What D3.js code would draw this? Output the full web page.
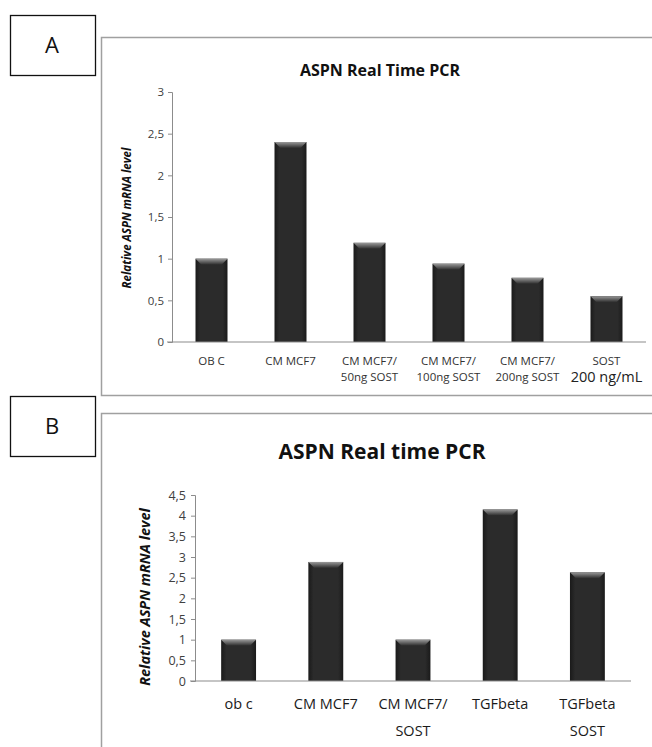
<!DOCTYPE html>
<html>
<head>
<meta charset="utf-8">
<script src="https://cdn.jsdelivr.net/npm/d3@7"></script>
<style>
  body { margin: 0; background: #fff; }
  svg { display: block; font-family: 'Open Sans', 'Noto Sans', sans-serif; }
</style>
</head>
<body>
<div id="chart"></div>
<script>
// panel A data
const catsA = ['OB C', 'CM MCF7', 'CM MCF7/|50ng SOST', 'CM MCF7/|100ng SOST', 'CM MCF7/|200ng SOST', 'SOST|200 ng/mL'];
const valuesA = [1.0, 2.4, 1.19, 0.94, 0.77, 0.55];
const ticksA = [0, 0.5, 1, 1.5, 2, 2.5, 3];

// panel B data
const catsB = ['ob c', 'CM MCF7', 'CM MCF7/|SOST', 'TGFbeta', 'TGFbeta|SOST'];
const valuesB = [1.0, 2.88, 1.0, 4.15, 2.63];
const ticksB = [0, 0.5, 1, 1.5, 2, 2.5, 3, 3.5, 4, 4.5];

const width = 652, height = 747;
const svg = d3.select('#chart').append('svg').attr('width', width).attr('height', height);

const defs = svg.append('defs');
const grad = defs.append('linearGradient').attr('id', 'bevel').attr('x1', 0).attr('y1', 0).attr('x2', 0).attr('y2', 1);
grad.append('stop').attr('offset', '0%').attr('stop-color', '#9a9a9a');
grad.append('stop').attr('offset', '100%').attr('stop-color', '#2e2e2e');
const side = defs.append('linearGradient').attr('id', 'side').attr('x1', 0).attr('y1', 0).attr('x2', 1).attr('y2', 0);
side.append('stop').attr('offset', '0%').attr('stop-color', '#1a1a1a');
side.append('stop').attr('offset', '15%').attr('stop-color', '#2b2b2b');
side.append('stop').attr('offset', '85%').attr('stop-color', '#2b2b2b');
side.append('stop').attr('offset', '100%').attr('stop-color', '#1a1a1a');

const fmt = (v) => d3.format('~g')(v).replace('.', ',');

function panel(cfg) {
    // outer frame
    svg.append('path')
        .attr('d', cfg.frame)
        .attr('fill', 'none')
        .attr('stroke', '#a0a0a0')
        .attr('stroke-width', 1.5);

    // letter box
    svg.append('rect')
        .attr('x', 10.5).attr('y', cfg.boxY + 0.5)
        .attr('width', 85).attr('height', 60)
        .attr('fill', '#fff').attr('stroke', '#111').attr('stroke-width', 1.3);
    svg.append('text')
        .attr('x', 52).attr('y', cfg.boxY + 38)
        .attr('text-anchor', 'middle')
        .attr('font-size', 22).attr('fill', '#111')
        .text(cfg.letter);

    const x = d3.scaleBand().domain(cfg.cats).range(cfg.xRange)
        .paddingInner(cfg.pad).paddingOuter(cfg.pad / 2);
    const y = d3.scaleLinear().domain(cfg.yDomain).range(cfg.yRange);

    const g = svg.append('g');

    // y axis
    const yAxis = g.append('g')
        .attr('transform', `translate(${cfg.xRange[0]},0)`)
        .call(d3.axisLeft(y).tickValues(cfg.ticks).tickFormat(fmt).tickSize(4).tickSizeOuter(4).tickPadding(cfg.tickPad));
    yAxis.select('.domain').attr('stroke', '#8c8c8c');
    yAxis.selectAll('.tick line').attr('stroke', '#8c8c8c');
    yAxis.selectAll('.tick text')
        .attr('font-size', cfg.tickFont).attr('fill', '#404040')
        .attr('font-family', "'Open Sans', sans-serif");

    // bars
    const bars = g.append('g').selectAll('g').data(cfg.values).enter().append('g');
    bars.append('rect')
        .attr('x', (d, i) => x(cfg.cats[i]))
        .attr('y', (d) => y(d))
        .attr('width', x.bandwidth())
        .attr('height', (d) => y(0) - y(d))
        .attr('fill', 'url(#side)');
    const bev = 6;
    bars.append('path')
        .attr('d', (d, i) => {
            const x0 = x(cfg.cats[i]), x1 = x0 + x.bandwidth(), t = y(d);
            return `M${x0},${t}L${x1},${t}L${x1 - bev},${t + bev}L${x0 + bev},${t + bev}Z`;
        })
        .attr('fill', 'url(#bevel)');

    // x axis line
    g.append('line')
        .attr('x1', cfg.xRange[0] - 5).attr('x2', cfg.xRange[1])
        .attr('y1', y(0)).attr('y2', y(0))
        .attr('stroke', '#8c8c8c').attr('stroke-width', 1.2);

    // category labels
    const lab = g.append('g').selectAll('text').data(cfg.cats).enter().append('text')
        .attr('x', (d) => x(d) + x.bandwidth() / 2)
        .attr('y', y(0) + cfg.labelDy)
        .attr('text-anchor', 'middle')
        .attr('font-size', cfg.labelFont)
        .attr('fill', cfg.labelColor);
    lab.each(function (d) {
        const parts = d.split('|');
        const t = d3.select(this);
        parts.forEach((p, k) => {
            const big = cfg.bigLast && d === cfg.bigLast && k === 1;
            const ts = t.append('tspan')
                .attr('x', t.attr('x'))
                .attr('dy', k === 0 ? 0 : (big ? cfg.lineH + 1 : cfg.lineH))
                .text(p);
            if (big) ts.attr('font-size', 14.5).attr('fill', '#222');
        });
    });

    // title
    svg.append('text')
        .attr('x', cfg.titleX).attr('y', cfg.titleY)
        .attr('text-anchor', 'middle')
        .attr('font-size', cfg.titleFont).attr('font-weight', 'bold').attr('fill', '#111')
        .text(cfg.title);

    // y label
    svg.append('text')
        .attr('transform', `translate(${cfg.yLabX},${cfg.yLabY}) rotate(-90)`)
        .attr('text-anchor', 'middle')
        .attr('font-size', cfg.yLabFont).attr('font-weight', 'bold').attr('font-style', 'italic')
        .attr('fill', '#111')
        .text('Relative ASPN mRNA level');
}

panel({
    letter: 'A', boxY: 15,
    frame: 'M660,37.5H101.5V395.5H660',
    cats: catsA, values: valuesA, ticks: ticksA,
    xRange: [172, 646], pad: 0.595,
    yDomain: [0, 3], yRange: [342, 92],
    tickFont: 11.5, tickPad: 4,
    labelDy: 23, labelFont: 11.5, labelColor: '#333', lineH: 16, bigLast: 'SOST|200 ng/mL',
    title: 'ASPN Real Time PCR', titleX: 380, titleY: 76, titleFont: 16,
    yLabX: 131, yLabY: 218, yLabFont: 11.5
});

panel({
    letter: 'B', boxY: 396,
    frame: 'M660,413.5H101.5V760',
    cats: catsB, values: valuesB, ticks: ticksB,
    xRange: [195, 631], pad: 0.6,
    yDomain: [0, 4.5], yRange: [681, 495],
    tickFont: 12.5, tickPad: 5,
    labelDy: 28, labelFont: 14.5, labelColor: '#1a1a1a', lineH: 27,
    title: 'ASPN Real time PCR', titleX: 382, titleY: 459, titleFont: 21,
    yLabX: 150, yLabY: 597, yLabFont: 14.5
});
</script>
</body>
</html>
